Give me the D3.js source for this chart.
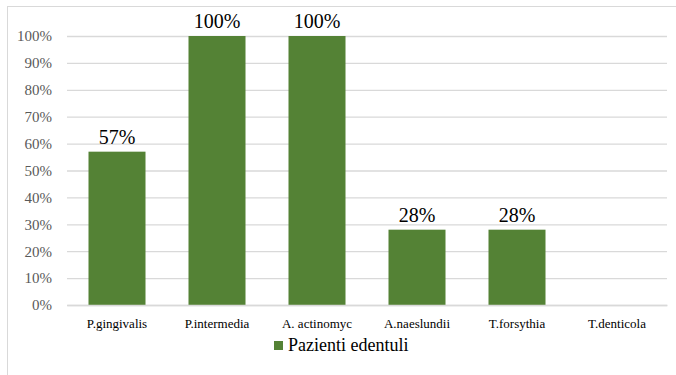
<!DOCTYPE html>
<html>
<head>
<meta charset="utf-8">
<script src="https://cdn.jsdelivr.net/npm/d3@7"></script>
<style>
  html, body { margin: 0; padding: 0; background: #fff; }
  svg { display: block; }
  svg text { font-family: "Liberation Serif", "Tinos", "Times New Roman", "DejaVu Serif", serif; }
</style>
</head>
<body>
<svg id="chart" width="676" height="375"></svg>
<script>
// Detection rate per bacterial species
const categories = ["P.gingivalis", "P.intermedia", "A. actinomyc", "A.naeslundii", "T.forsythia", "T.denticola"];
const values = [57, 100, 100, 28, 28, 0];
const yTicks = [0, 10, 20, 30, 40, 50, 60, 70, 80, 90, 100];
const seriesName = "Pazienti edentuli";

const W = 676, H = 375;
const margin = { left: 67, right: 9, top: 36, bottom: 70 };
const svg = d3.select("#chart");
const green = "#548235";
const serif = "'Liberation Serif', 'Tinos', 'Times New Roman', 'DejaVu Serif', serif";

// Chart frame
svg.append("rect")
  .attr("x", 7.5).attr("y", 6.5)
  .attr("width", W + 10).attr("height", H + 10)
  .attr("fill", "none").attr("stroke", "#d9d9d9").attr("stroke-width", 1);

const x = d3.scaleBand()
  .domain(categories)
  .range([margin.left, W - margin.right])
  .paddingInner(0.43).paddingOuter(0.215);

const y = d3.scaleLinear()
  .domain([0, 100])
  .range([H - margin.bottom, margin.top]);

// Horizontal gridlines and y labels
const yAxis = d3.axisLeft(y)
  .tickValues(yTicks)
  .tickFormat(d => d + "%")
  .tickSize(-(W - margin.left - margin.right))
  .tickPadding(15);

const gy = svg.append("g")
  .attr("transform", `translate(${margin.left},0)`)
  .call(yAxis)
  .attr("font-family", serif);
gy.select(".domain").remove();
gy.selectAll(".tick line").attr("stroke", "#d9d9d9").attr("stroke-width", 1.3);
gy.selectAll(".tick text")
  .attr("fill", "#595959")
  .attr("font-size", 15);

// Bars
svg.append("g").selectAll("rect")
  .data(values)
  .join("rect")
  .attr("x", (d, i) => x(categories[i]))
  .attr("y", d => y(d))
  .attr("width", x.bandwidth())
  .attr("height", d => y(0) - y(d))
  .attr("fill", green);

// Value labels above the bars
svg.append("g").attr("font-family", serif).selectAll("text")
  .data(values.map((v, i) => ({ v, c: categories[i] })).filter(d => d.v > 0))
  .join("text")
  .attr("x", d => x(d.c) + x.bandwidth() / 2)
  .attr("y", d => y(d.v) - 8)
  .attr("text-anchor", "middle")
  .attr("fill", "#000")
  .attr("font-size", 20)
  .text(d => d.v + "%");

// Category axis
const xAxis = d3.axisBottom(x).tickSize(0).tickPadding(14);
const gx = svg.append("g")
  .attr("transform", `translate(0,${y(0)})`)
  .call(xAxis)
  .attr("font-family", serif);
gx.select(".domain").attr("stroke", "#d9d9d9").attr("stroke-width", 1.3);
gx.selectAll(".tick text")
  .attr("fill", "#000")
  .attr("font-size", 13);

// Legend
const lg = svg.append("g").attr("transform", "translate(274,341)").attr("font-family", serif);
lg.append("rect").attr("width", 9).attr("height", 9).attr("fill", green);
lg.append("text")
  .attr("x", 14).attr("y", 10)
  .attr("fill", "#000")
  .attr("font-size", 18)
  .text(seriesName);
</script>
</body>
</html>
